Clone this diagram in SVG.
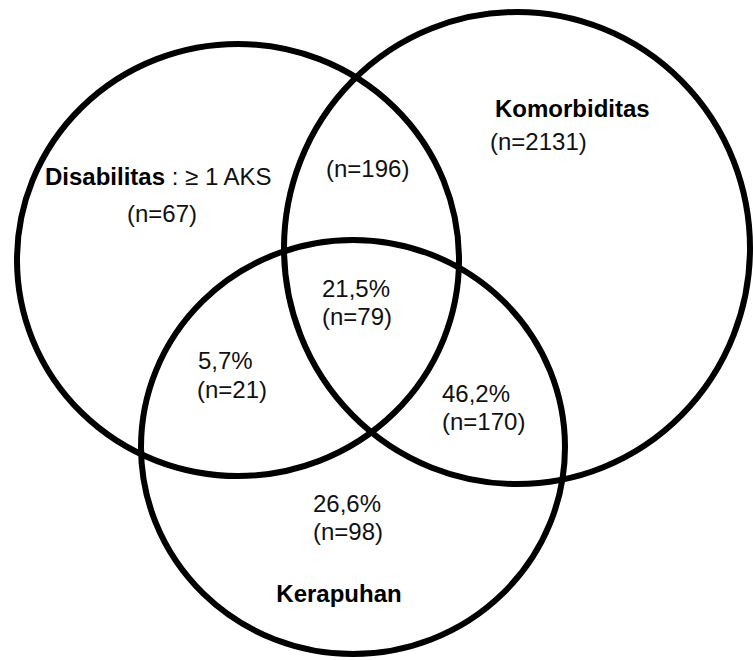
<svg xmlns="http://www.w3.org/2000/svg" width="753" height="660" viewBox="0 0 753 660">
<style>
.c{fill:none;stroke:#000;stroke-width:6}
text{font-family:"Liberation Sans",Arial,sans-serif;font-size:24px;fill:#111}
.b{font-weight:bold;fill:#000}
.m{text-anchor:middle}
</style>
<rect width="753" height="660" fill="#fff"/>
<g id="circles">
<g id="disabilitas-circle"><ellipse class="c" cx="238" cy="260" rx="221" ry="216"/></g>
<g id="komorbiditas-circle"><ellipse class="c" cx="517" cy="248" rx="233" ry="236"/></g>
<g id="kerapuhan-circle"><ellipse class="c" cx="353" cy="447" rx="212" ry="207"/></g>
</g>
<g id="labels">
<g id="disabilitas"><text x="45" y="185"><tspan class="b">Disabilitas</tspan> : ≥ 1 AKS</text><text class="m" x="162" y="222">(n=67)</text></g>
<g id="komorbiditas"><text class="b" x="495" y="117">Komorbiditas</text><text x="490" y="150">(n=2131)</text></g>
<g id="dis-kom"><text x="326" y="177">(n=196)</text></g>
<g id="all"><text class="m" x="356" y="297">21,5%</text><text class="m" x="357" y="325">(n=79)</text></g>
<g id="dis-ker"><text x="198" y="369">5,7%</text><text x="197" y="398">(n=21)</text></g>
<g id="kom-ker"><text x="442" y="402">46,2%</text><text x="442" y="430">(n=170)</text></g>
<g id="kerapuhan"><text x="313" y="512">26,6%</text><text x="313" y="540">(n=98)</text><text class="b m" x="339" y="602">Kerapuhan</text></g>
</g>
</svg>
